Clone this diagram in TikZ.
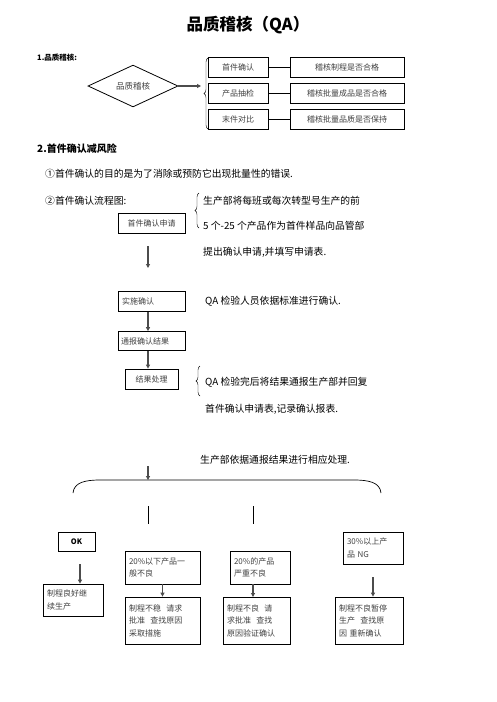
\documentclass[tikz,border=0pt]{standalone}
\usepackage{fontspec}
\setmainfont{Noto Sans CJK SC}
\usetikzlibrary{shapes,shapes.geometric,calc,arrows.meta,decorations.pathreplacing}

\begin{document}
\begin{tikzpicture}[x=1pt,y=-1pt]
			\tikzstyle{box}=[rectangle,draw,line width=0.8pt,inner sep=2pt,font=\fontsize{8}{12.5}\selectfont,text=black!75]
			\tikzstyle{lbox}=[box,align=left,inner xsep=4pt,text width=#1]
			\tikzstyle{txt}=[anchor=west,inner sep=0pt,font=\fontsize{9.8}{11}\selectfont]
			\tikzstyle{arr}=[draw=black!70,line width=1.2pt,-{Triangle[length=4pt,width=4pt]}]
			\tikzstyle{brc}=[draw,decorate,decoration={brace,amplitude=4pt}]
			\useasboundingbox (0,0) rectangle (496,702);
			% title
			\node[font=\bfseries\fontsize{16.5}{18}\selectfont] (title) at (248,25) {品质稽核（QA）};
			% 1. quality audit
			\node[txt,font=\bfseries\fontsize{7.5}{8}\selectfont] (sec1) at (37,58) {1.品质稽核:};
			\node[diamond,draw,line width=0.8pt,minimum width=90pt,minimum height=32pt,inner sep=0pt,font=\fontsize{8.5}{9}\selectfont,text=black!75] (audit) at (133,86) {品质稽核};
			\node[box,minimum width=60pt,minimum height=20pt] (first) at (238,67.5) {首件确认};
			\node[box,minimum width=60pt,minimum height=20pt] (sample) at (238,93) {产品抽检};
			\node[box,minimum width=60pt,minimum height=20pt] (last) at (238,119) {末件对比};
			\node[box,minimum width=114pt,minimum height=20pt] (firstr) at (347,67.5) {稽核制程是否合格};
			\node[box,minimum width=114pt,minimum height=20pt] (sampler) at (347,93) {稽核批量成品是否合格};
			\node[box,minimum width=114pt,minimum height=20pt] (lastr) at (347,119) {稽核批量品质是否保持};
			\draw[line width=0.8pt] (first) -- (firstr);
			\draw[line width=0.8pt] (sample) -- (sampler);
			\draw[line width=0.8pt] (last) -- (lastr);
			\draw[brc] (208,129) -- (208,58);
			\coordinate (tip1) at (201,86);
			\draw[arr] (audit.east) -- (tip1);
			% 2. first article
			\node[txt,font=\bfseries\fontsize{10}{11}\selectfont] (sec2) at (37,149) {2.首件确认减风险};
			\node[txt] (purpose) at (45,174) {①首件确认的目的是为了消除或预防它出现批量性的错误.};
			\node[txt] (flow) at (45,201) {②首件确认流程图:};
			\draw[brc] (199,228) -- (199,193);
			\node[txt] (d1) at (203,201) {生产部将每班或每次转型号生产的前};
			\node[txt] (d2) at (203,226) {5 个-25 个产品作为首件样品向品管部};
			\node[txt] (d3) at (203,252) {提出确认申请,并填写申请表.};
			\node[box,minimum width=67pt,minimum height=20pt] (apply) at (151.5,223) {首件确认申请};
			\coordinate (a1) at (148,246);
			\coordinate (a2) at (148,268);
			\draw[arr] (a1) -- (a2);
			\node[lbox=59pt,minimum height=20pt] (check) at (151.5,301.5) {实施确认};
			\node[lbox=61pt,inner xsep=3pt,minimum height=19pt] (report) at (151.5,341) {通报确认结果};
			\node[box,minimum width=53pt,minimum height=20pt] (handle) at (151.5,379) {结果处理};
			\draw[arr] ([xshift=-3.5pt]check.south) -- ([xshift=-3.5pt]report.north);
			\draw[arr] ([xshift=-3.5pt]report.south) -- ([xshift=-3.5pt]handle.north);
			\node[txt] (e1) at (205,301) {QA 检验人员依据标准进行确认.};
			\draw[brc] (200,396) -- (200,366);
			\node[txt] (e2) at (205,382) {QA 检验完后将结果通报生产部并回复};
			\node[txt] (e3) at (205,409) {首件确认申请表,记录确认报表.};
			% 3. handling
			\node[txt] (deal) at (200,460) {生产部依据通报结果进行相应处理.};
			\coordinate (b1) at (148,466);
			\coordinate (b2) at (148,480);
			\draw[arr] (b1) -- (b2);
			\coordinate (cl) at (73,493);
			\coordinate (cr) at (381,493);
			\draw[line width=0.7pt] (cl) .. controls (74,482) and (86,480) .. (100,480) -- (354,480) .. controls (368,480) and (380,482) .. (cr);
			\coordinate (v1a) at (148,506);
			\coordinate (v1b) at (148,524);
			\coordinate (v2a) at (253,506);
			\coordinate (v2b) at (253,524);
			\draw[line width=0.8pt] (v1a) -- (v1b);
			\draw[line width=0.8pt] (v2a) -- (v2b);
			\node[box,minimum width=37pt,minimum height=19pt,font=\bfseries\fontsize{7.5}{8}\selectfont,text=black] (ok) at (76.5,541.5) {OK};
			\node[lbox=52pt,minimum height=32pt] (okr) at (73,600) {制程良好继\\续生产};
			\node[lbox=67pt,minimum height=33pt] (low) at (162.5,567.5) {20\%以下产品一\\般不良};
			\node[lbox=52pt,minimum height=33pt] (mid) at (260,567.5) {20\%的产品\\严重不良};
			\node[lbox=52pt,minimum height=32pt] (high) at (373,548) {30\%以上产\\品 NG};
			\node[lbox=67pt,minimum height=47pt] (lowr) at (162.5,620.5) {制程不稳\ \ 请求\\批准\ \ 查找原因\\采取措施};
			\node[lbox=59pt,minimum height=47pt] (midr) at (256.5,620.5) {制程不良\ \ 请\\求批准\ \ 查找\\原因验证确认};
			\node[lbox=60pt,minimum height=47pt] (highr) at (369,620.5) {制程不良暂停\\生产\ \ 查找原\\因\ 重新确认};
			\coordinate (o1) at (80,564);
			\draw[arr] (o1) -- (o1 |- okr.north);
			\draw[arr] (low.south) -- (lowr.north);
			\draw[arr] (253,584) -- (253,597);
			\coordinate (h1) at (373,577);
			\draw[arr] (h1) -- (h1 |- highr.north);
		\end{tikzpicture}
\end{document}
